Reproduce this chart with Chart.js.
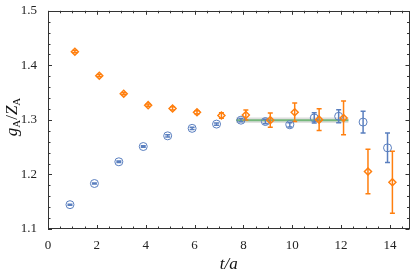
<!DOCTYPE html>
<html>
<head>
<meta charset="utf-8">
<script src="https://cdn.jsdelivr.net/npm/chart.js@4"></script>
<style>
html,body{margin:0;padding:0;background:#fff;}
#wrap{width:415px;height:279px;}
</style>
</head>
<body>
<div id="wrap"><canvas id="c" width="415" height="279"></canvas></div>
<script>
// ---- data ----
const tValues = [1,2,3,4,5,6,7,8,9,10,11,12,13,14];
const orangeY   = [1.425,1.381,1.348,1.327,1.321,1.314,1.308,1.309,1.2995,1.314,1.3005,1.3036,1.2054,1.1857];
const orangeErr = [0.002,0.002,0.002,0.002,0.003,0.003,0.005,0.009,0.013,0.017,0.020,0.031,0.041,0.057];
const blueY     = [1.1446,1.1834,1.2232,1.2512,1.2708,1.2845,1.2923,1.2995,1.297,1.291,1.3036,1.3066,1.296,1.2488];
const blueErr   = [0.001,0.001,0.0015,0.0015,0.002,0.002,0.002,0.003,0.004,0.004,0.0095,0.012,0.020,0.027];
const fitRange  = [7.7, 12.3];
const fitValue  = 1.2995;
const fitErr    = 0.005;
const xTicks = [0,2,4,6,8,10,12,14];
const yTicks = [1.1,1.2,1.3,1.4,1.5];

const ORANGE = '#ff7f0e';
const BLUE = '#5a7fbf';
const xShift = 0.1;
const SERIF = '"Liberation Serif","DejaVu Serif",serif';
const TFONT = '"Liberation Serif","DejaVu Serif",serif';

const orangePts = tValues.map((t,i)=>({x:t+xShift,y:orangeY[i]}));
const bluePts = tValues.map((t,i)=>({x:t-xShift,y:blueY[i]}));

const errorBars = {
  id:'errorBars',
  beforeDatasetsDraw(chart){
    const {ctx, scales:{x,y}, chartArea} = chart;
    ctx.save();
    ctx.beginPath();
    ctx.rect(chartArea.left, chartArea.top, chartArea.right-chartArea.left, chartArea.bottom-chartArea.top);
    ctx.clip();
    const x0 = x.getPixelForValue(fitRange[0]), x1 = x.getPixelForValue(fitRange[1]);
    const yt = y.getPixelForValue(fitValue+fitErr), yb = y.getPixelForValue(fitValue-fitErr);
    ctx.fillStyle = 'rgba(160,160,160,0.35)';
    ctx.fillRect(x0, yt, x1-x0, yb-yt);
    ctx.strokeStyle = 'rgba(80,170,90,0.75)';
    ctx.lineWidth = 2;
    ctx.beginPath();
    ctx.moveTo(x0, y.getPixelForValue(fitValue));
    ctx.lineTo(x1, y.getPixelForValue(fitValue));
    ctx.stroke();
    const draw = (pts, errs, color) => {
      ctx.strokeStyle = color;
      ctx.lineWidth = 1.5;
      pts.forEach((p,i)=>{
        const px = x.getPixelForValue(p.x);
        const a = y.getPixelForValue(p.y+errs[i]);
        const b = y.getPixelForValue(p.y-errs[i]);
        ctx.beginPath();
        ctx.moveTo(px,a); ctx.lineTo(px,b);
        ctx.moveTo(px-2.5,a); ctx.lineTo(px+2.5,a);
        ctx.moveTo(px-2.5,b); ctx.lineTo(px+2.5,b);
        ctx.stroke();
      });
    };
    draw(bluePts, blueErr, BLUE);
    draw(orangePts, orangeErr, ORANGE);
    ctx.restore();
  }
};

const frame = {
  id:'frame',
  afterDraw(chart){
    const {ctx, scales:{x,y}, chartArea:ca} = chart;
    ctx.save();
    ctx.strokeStyle = '#333';
    ctx.lineWidth = 1;
    ctx.strokeRect(Math.round(ca.left)+0.5, Math.round(ca.top)+0.5, Math.round(ca.right-ca.left)-1, Math.round(ca.bottom-ca.top)-1);
    ctx.beginPath();
    for (let v=0; v<=x.max+1e-9; v+=0.5){
      const px = Math.round(x.getPixelForValue(v))+0.5;
      const major = Math.abs(v/2-Math.round(v/2))<1e-6;
      const L = major?4:2.5;
      ctx.moveTo(px, ca.bottom); ctx.lineTo(px, ca.bottom-L);
      ctx.moveTo(px, ca.top); ctx.lineTo(px, ca.top+L);
    }
    for (let k=0; k<=20; k++){
      const v = 1.1 + k*0.02;
      const py = Math.round(y.getPixelForValue(v))+0.5;
      const major = k%5===0;
      const L = major?4:2.5;
      ctx.moveTo(ca.left, py); ctx.lineTo(ca.left+L, py);
      ctx.moveTo(ca.right, py); ctx.lineTo(ca.right-L, py);
    }
    ctx.stroke();
    ctx.fillStyle = '#111';
    ctx.textBaseline = 'middle';
    ctx.font = 'italic 17px ' + TFONT;
    ctx.textAlign = 'center';
    ctx.fillText('t/a', (ca.left+ca.right)/2, 265);
    ctx.translate(13, 117);
    ctx.rotate(-Math.PI/2);
    const parts = [
      {t:'g', f:'italic 17px '+TFONT, dy:0},
      {t:'A', f:'11px '+TFONT, dy:4},
      {t:'/', f:'17px '+TFONT, dy:0},
      {t:'Z', f:'italic 17px '+TFONT, dy:0},
      {t:'A', f:'11px '+TFONT, dy:4}
    ];
    let w = 0;
    parts.forEach(p=>{ctx.font=p.f; w+=ctx.measureText(p.t).width;});
    let cx = -w/2;
    ctx.textAlign = 'left';
    parts.forEach(p=>{ctx.font=p.f; ctx.fillText(p.t, cx, p.dy); cx+=ctx.measureText(p.t).width;});
    ctx.restore();
  }
};

new Chart(document.getElementById('c'), {
  type:'scatter',
  data:{
    datasets:[
      {label:'orange', data:orangePts, pointStyle:'rectRot', pointRadius:3.5, borderColor:ORANGE, backgroundColor:'rgba(0,0,0,0)', borderWidth:1.5},
      {label:'blue', data:bluePts, pointStyle:'circle', pointRadius:4, borderColor:BLUE, backgroundColor:'rgba(0,0,0,0)', borderWidth:1}
    ]
  },
  options:{
    responsive:false,
    animation:false,
    devicePixelRatio:1,
    layout:{padding:{top:5,right:5,left:0,bottom:0}},
    plugins:{legend:{display:false}, tooltip:{enabled:false}},
    scales:{
      x:{
        type:'linear', min:0, max:14.8,
        grid:{display:false}, border:{display:false},
        afterBuildTicks(s){ s.ticks = xTicks.map(v=>({value:v})); },
        afterFit(s){ s.height = 50; },
        ticks:{color:'#222', font:{family:SERIF, size:13}, padding:1, maxRotation:0, callback:v=>String(v)}
      },
      y:{
        type:'linear', min:1.1, max:1.5,
        grid:{display:false}, border:{display:false},
        afterBuildTicks(s){ s.ticks = yTicks.map(v=>({value:v})); },
        afterFit(s){ s.width = 48; },
        ticks:{color:'#222', font:{family:SERIF, size:13}, padding:3, callback:v=>v.toFixed(1)}
      }
    }
  },
  plugins:[errorBars, frame]
});
</script>
</body>
</html>
